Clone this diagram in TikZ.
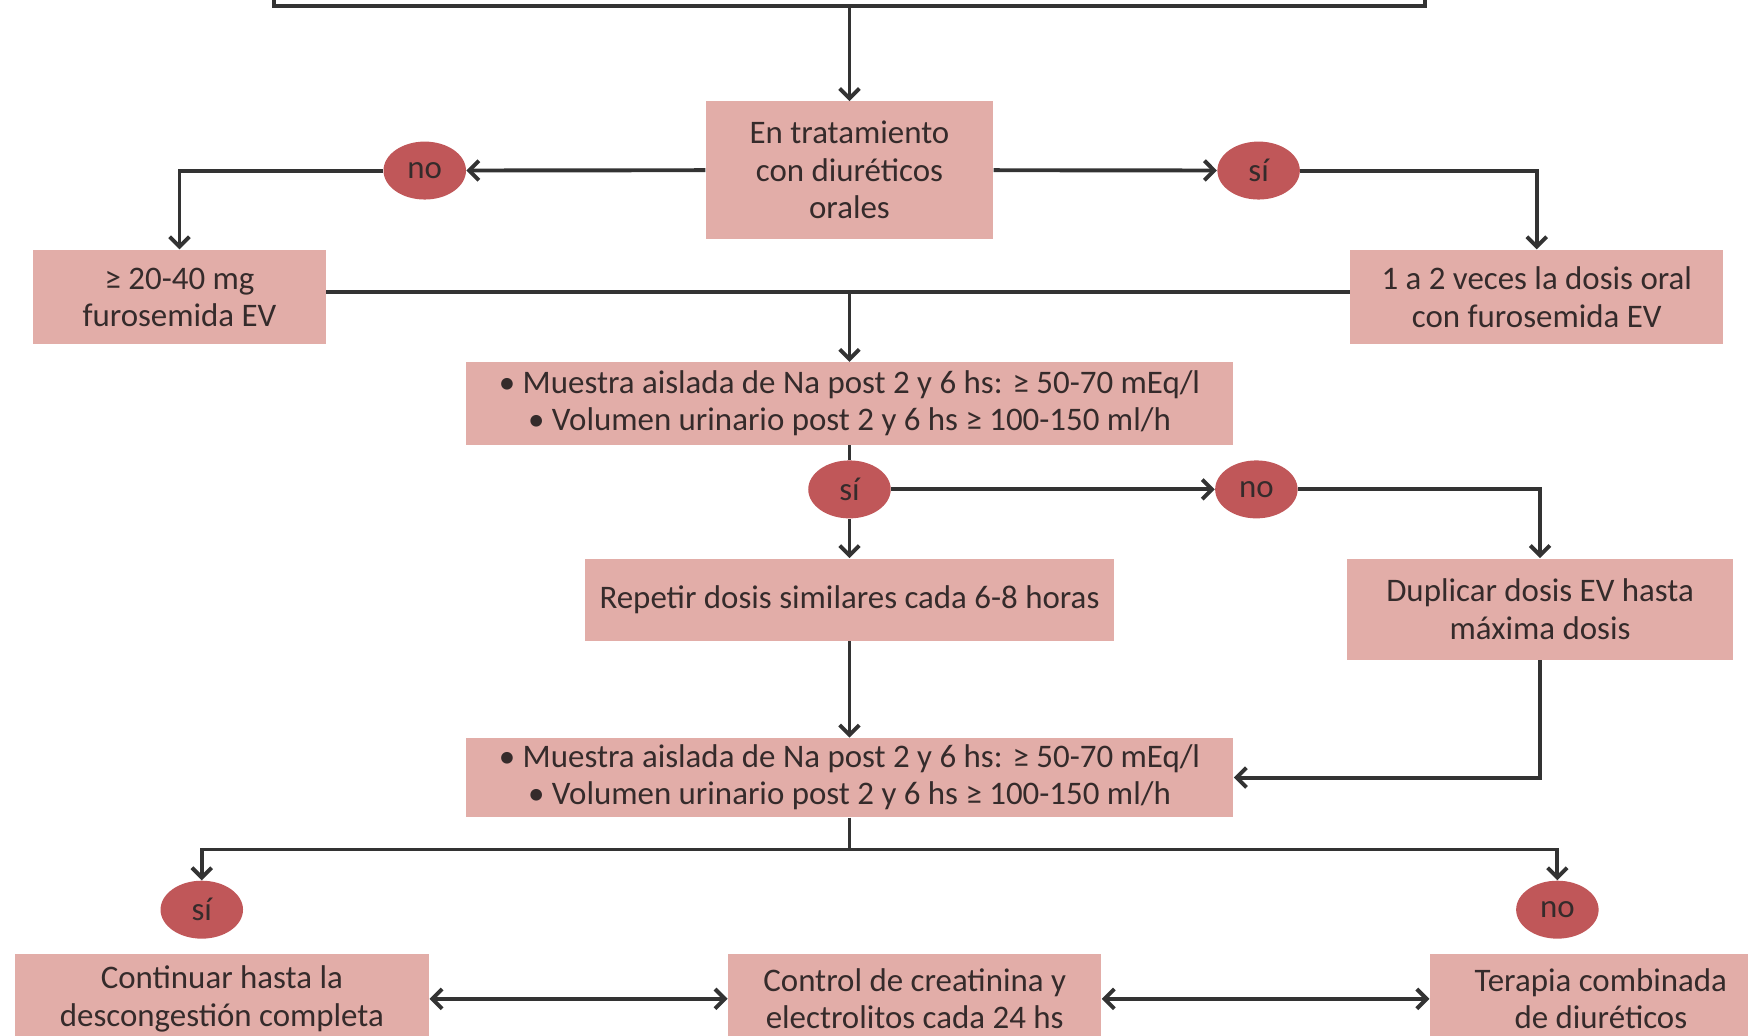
\documentclass[tikz,border=0pt]{standalone}
\usepackage{fontspec}
\setmainfont{Carlito}
\usetikzlibrary{arrows.meta,shapes.geometric}
\definecolor{boxpink}{HTML}{E2ADA8}
\definecolor{ovalred}{HTML}{C05759}
\definecolor{inkgray}{HTML}{352B2B}
\tikzset{
  box/.style={fill=boxpink,text=inkgray,align=center,inner sep=0pt,font=\fontsize{16.8}{19}\selectfont},
  oval/.style={ellipse,fill=ovalred,text=inkgray,inner sep=0pt,minimum width=1.48cm,minimum height=1.04cm,font=\fontsize{16.8}{19}\selectfont},
  conn/.style={line width=2pt,draw=black!80},
  >={Straight Barb[length=5pt,width=10pt]}
}
\begin{document}
\begin{tikzpicture}[x=0.02cm,y=-0.02cm]
\useasboundingbox (0,0) rectangle (1568,929);
\node[draw=black!80,line width=2pt,fill=white,minimum width=20.66cm,minimum height=1.4cm] (top) at (762,-30) {};
\node[box,minimum width=5.16cm,minimum height=2.46cm] (tto) at (762,152.5) {En tratamiento\\con diuréticos\\orales};
\node[oval] (no1) at (381,153) {no};
\node[oval] (si1) at (1129,153) {sí};
\node[box,minimum width=5.26cm,minimum height=1.7cm] (fur) at (161,266.5) {≥ 20-40 mg\\furosemida EV};
\node[box,minimum width=6.7cm,minimum height=1.7cm] (oral) at (1378.5,266.5) {1 a 2 veces la dosis oral\\con furosemida EV};
\coordinate (j1) at (762,262);
\node[box,minimum width=13.78cm,minimum height=1.48cm] (na1) at (762,362) {• Muestra aislada de Na post 2 y 6 hs: ≥ 50-70 mEq/l\\• Volumen urinario post 2 y 6 hs ≥ 100-150 ml/h};
\node[oval] (si2) at (762,439) {sí};
\node[oval] (no2) at (1127,439) {no};
\node[box,minimum width=9.5cm,minimum height=1.48cm] (rep) at (762,538) {Repetir dosis similares cada 6-8 horas};
\node[box,minimum width=6.94cm,minimum height=1.82cm] (dup) at (1381.5,546.5) {Duplicar dosis EV hasta\\máxima dosis};
\node[box,minimum width=13.78cm,minimum height=1.42cm] (na2) at (762,697.5) {• Muestra aislada de Na post 2 y 6 hs: ≥ 50-70 mEq/l\\• Volumen urinario post 2 y 6 hs ≥ 100-150 ml/h};
\coordinate (j2) at (762,762);
\node[oval] (si3) at (181,816) {sí};
\node[oval] (no3) at (1397,816) {no};
\node[box,minimum width=7.44cm,minimum height=1.6cm] (cont) at (199,896) {Continuar hasta la\\descongestión completa};
\node[box,minimum width=6.7cm,minimum height=1.6cm] (ctrl) at (820.5,896) {Control de creatinina y\\electrolitos cada 24 hs};
\node[box,minimum width=6.14cm,minimum height=1.6cm] (ter) at (1436,896) {Terapia combinada\\de diuréticos};
\draw[conn,->] (top) -- (tto);
\draw[conn,->] (tto) -- (no1);
\draw[conn,->] (no1) -| (fur);
\draw[conn,->] (tto) -- (si1);
\draw[conn,->] (si1) -| (oral);
\draw[conn] (fur.east |- j1) -- (oral.west |- j1);
\draw[conn,->] (j1) -- (na1);
\draw[conn] (na1) -- (si2);
\draw[conn,->] (si2) -- (rep);
\draw[conn,->] (si2) -- (no2);
\draw[conn,->] (no2) -| (dup);
\draw[conn,->] (rep) -- (na2);
\draw[conn,->] (dup) |- (na2);
\draw[conn] (na2) -- (j2);
\draw[conn,->] (j2) -| (si3);
\draw[conn,->] (j2) -| (no3);
\draw[conn,<->] (cont) -- (ctrl);
\draw[conn,<->] (ctrl) -- (ter);
\end{tikzpicture}
\end{document}
